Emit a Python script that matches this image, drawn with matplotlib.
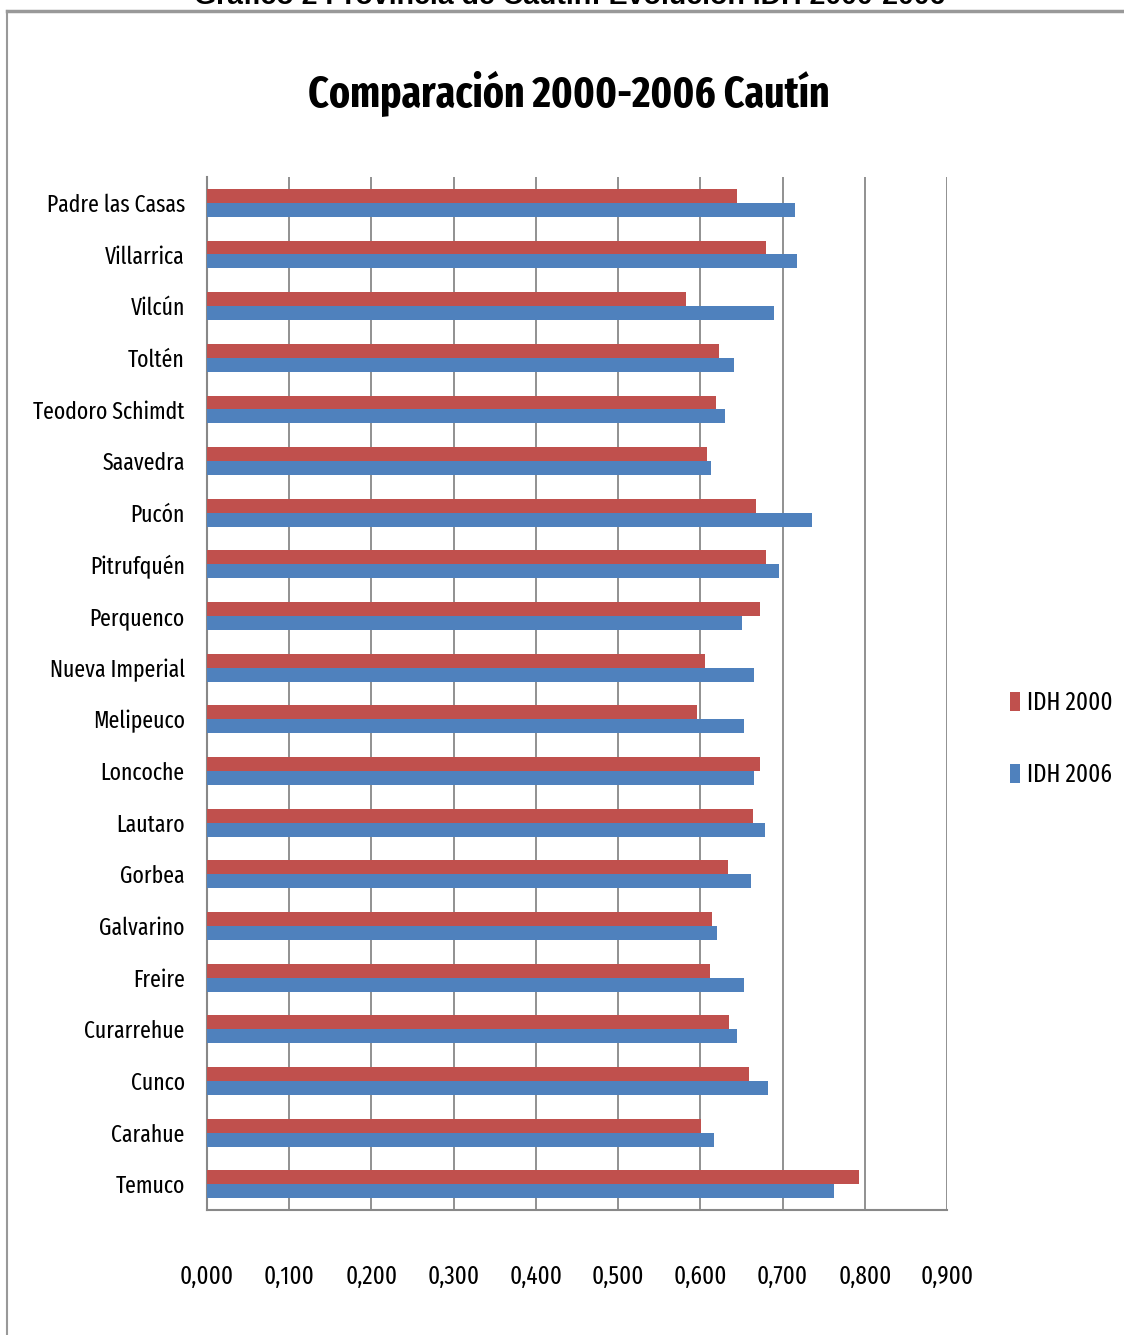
"""Comparación IDH 2000-2006, comunas de Cautín."""

import numpy as np
import matplotlib
matplotlib.use("Agg")
import matplotlib.pyplot as plt
from matplotlib.lines import Line2D

# comunas, de abajo hacia arriba (como en el gráfico)
comunas = ["Temuco", "Carahue", "Cunco", "Curarrehue", "Freire", "Galvarino",
           "Gorbea", "Lautaro", "Loncoche", "Melipeuco", "Nueva Imperial",
           "Perquenco", "Pitrufquén", "Pucón", "Saavedra", "Teodoro Schimdt",
           "Toltén", "Vilcún", "Villarrica", "Padre las Casas"]
idh_2000 = [0.793, 0.601, 0.659, 0.635, 0.612, 0.614, 0.633, 0.664, 0.672, 0.596,
            0.606, 0.672, 0.680, 0.668, 0.608, 0.619, 0.623, 0.583, 0.680, 0.645]
idh_2006 = [0.762, 0.617, 0.682, 0.644, 0.653, 0.620, 0.662, 0.678, 0.665, 0.653,
            0.665, 0.651, 0.695, 0.736, 0.613, 0.630, 0.641, 0.690, 0.718, 0.715]
x_ticks = [0.0, 0.1, 0.2, 0.3, 0.4, 0.5, 0.6, 0.7, 0.8, 0.9]

ROJO = "#C0504D"
AZUL = "#4F81BD"
FUENTE = ["Fira Sans Extra Condensed", "Carlito", "DejaVu Sans"]

plt.rcParams["font.family"] = FUENTE

fig = plt.figure(figsize=(11.24, 13.35), dpi=100)
ax = fig.add_axes([0.1842, 0.0936, 0.6584, 0.7738])

y = np.arange(len(comunas))
h = 0.27
ax.barh(y + h / 2, idh_2000, height=h, color=ROJO, label="IDH 2000", zorder=3)
ax.barh(y - h / 2, idh_2006, height=h, color=AZUL, label="IDH 2006", zorder=3)

ax.set_xlim(0, 0.9)
ax.set_ylim(-0.5, len(comunas) - 0.5)
ax.set_xticks(x_ticks)
ax.set_xticklabels([f"{v:.3f}".replace(".", ",") for v in x_ticks], fontsize=18)
ax.set_yticks(y)
ax.set_yticklabels(comunas, fontsize=17)
ax.tick_params(axis="x", length=0, pad=39)
ax.tick_params(axis="y", length=0, pad=16)
ax.xaxis.grid(True, color="#888888", linewidth=1.3, zorder=0)

for s in ["top", "right"]:
    ax.spines[s].set_visible(False)
for s in ["left", "bottom"]:
    ax.spines[s].set_color("#888888")
    ax.spines[s].set_linewidth(1.5)

ax.legend(loc="center left", bbox_to_anchor=(1.054, 0.456), frameon=False,
          fontsize=18, handlelength=0.4, handleheight=0.8, handletextpad=0.3,
          labelspacing=1.9)

fig.text(0.506, 1 - 107 / 1335, "Comparación 2000-2006 Cautín", ha="center",
         va="baseline", fontsize=31, fontweight="bold")

# título del documento, cortado en el borde superior
fig.text(0.507, 1 - 4 / 1335, "Gráfico 2 Provincia de Cautín: Evolución IDH 2000-2006",
         ha="center", va="baseline", fontsize=20.5, fontweight="bold",
         family="Liberation Sans")

# marco del recuadro
fig.add_artist(Line2D([7 / 1124, 1.0], [1 - 11 / 1335, 1 - 11 / 1335],
                      transform=fig.transFigure, color="#999999", linewidth=2.5))
fig.add_artist(Line2D([7 / 1124, 7 / 1124], [0.0, 1 - 11 / 1335],
                      transform=fig.transFigure, color="#999999", linewidth=1.5))

fig.savefig("out.png", dpi=100)
